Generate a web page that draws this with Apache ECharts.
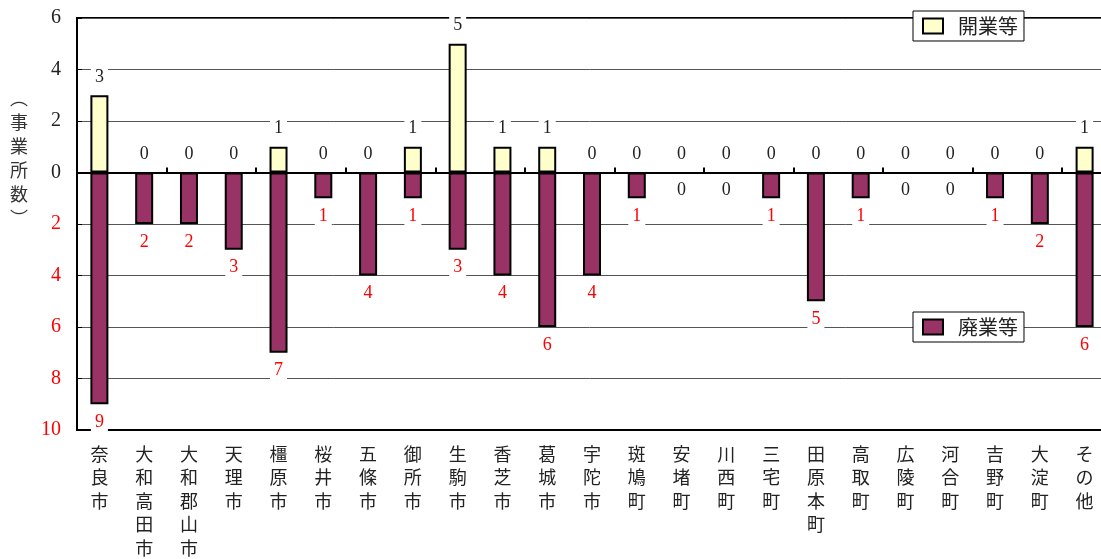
<!DOCTYPE html>
<html>
<head>
<meta charset="utf-8">
<script src="https://cdn.jsdelivr.net/npm/echarts@6/dist/echarts.min.js"></script>
<style>
  html, body { margin: 0; background: #fff; }
  #chart { width: 1101px; height: 559px; }
</style>
</head>
<body>
<div id="chart"></div>
<script>
// 市町村別 開業等・廃業等 事業所数
const categories = ['奈良市', '大和高田市', '大和郡山市', '天理市', '橿原市', '桜井市', '五條市', '御所市',
  '生駒市', '香芝市', '葛城市', '宇陀市', '斑鳩町', '安堵町', '川西町', '三宅町', '田原本町', '高取町',
  '広陵町', '河合町', '吉野町', '大淀町', 'その他']
const openCounts = [3, 0, 0, 0, 1, 0, 0, 1, 5, 1, 1, 0, 0, 0, 0, 0, 0, 0, 0, 0, 0, 0, 1]
const closeCounts = [9, 2, 2, 3, 7, 1, 4, 1, 3, 4, 6, 4, 1, 0, 0, 1, 5, 1, 0, 0, 1, 2, 6]

const serif = '"Liberation Serif", "DejaVu Serif", serif'
const jp = '"Noto Sans CJK JP", sans-serif'

const chart = echarts.init(document.getElementById('chart'))

const valueLabel = {
  show: true,
  fontFamily: serif,
  fontSize: 18,
  backgroundColor: '#fff',
  padding: [0, 4],
  distance: 9,
  formatter: p => Math.abs(p.value)
}

const legendBase = {
  orient: 'horizontal',
  backgroundColor: '#fff',
  borderColor: '#000',
  borderWidth: 1,
  borderRadius: 0,
  padding: [5, 6, 5, 9],
  itemWidth: 20,
  itemHeight: 15,
  icon: 'rect',
  textStyle: { fontFamily: jp, fontSize: 20, color: '#222', padding: [0, 0, 0, 10] }
}

const option = {
  animation: false,
  grid: {
    left: 77,
    top: 18,
    width: 1030,
    bottom: 129,
    outerBoundsMode: 'none',
    show: true,
    borderColor: '#000',
    borderWidth: 2
  },
  legend: [
    Object.assign({ data: ['開業等'], left: 913, top: 11 }, legendBase),
    Object.assign({ data: ['廃業等'], left: 913, top: 312 }, legendBase)
  ],
  graphic: [
    {
      type: 'text',
      left: 10,
      top: 86,
      style: {
        text: '︵\n事\n業\n所\n数\n︶',
        font: '18px ' + jp,
        lineHeight: 24,
        fill: '#333',
        align: 'center'
      }
    }
  ],
  xAxis: [
    {
      type: 'category',
      data: categories,
      position: 'bottom',
      axisLine: { onZero: false, lineStyle: { color: '#000', width: 2 } },
      axisTick: { show: false },
      axisLabel: {
        interval: 0,
        margin: 12,
        fontFamily: jp,
        fontSize: 18,
        lineHeight: 23.5,
        color: '#222',
        verticalAlign: 'top',
        formatter: v => v.split('').join('\n')
      },
      splitLine: { show: false }
    },
    {
      type: 'category',
      data: categories,
      position: 'bottom',
      axisLine: { onZero: true, lineStyle: { color: '#000', width: 2 } },
      axisTick: { show: true, inside: true, length: 5, lineStyle: { color: '#000', width: 2 } },
      axisLabel: { show: false },
      splitLine: { show: false }
    }
  ],
  yAxis: {
    type: 'value',
    min: -10,
    max: 6,
    interval: 2,
    axisLine: { show: true, lineStyle: { color: '#000', width: 2 } },
    axisTick: { show: true, inside: true, length: 5, lineStyle: { color: '#000' } },
    axisLabel: {
      margin: 16,
      fontFamily: serif,
      fontSize: 20,
      formatter: v => Math.abs(v),
      color: v => (v < 0 ? '#ff0000' : '#222')
    },
    splitLine: { show: true, lineStyle: { color: '#555', width: 1 } }
  },
  series: [
    {
      name: '開業等',
      type: 'bar',
      xAxisIndex: 0,
      barWidth: 18,
      barGap: '-100%',
      itemStyle: { color: '#ffffcc', borderColor: '#000', borderWidth: 2 },
      label: Object.assign({}, valueLabel, { position: 'top', color: '#222' }),
      data: openCounts.map(v => ({ value: v, itemStyle: v ? {} : { borderWidth: 0 } })),
      z: 3
    },
    {
      name: '廃業等',
      type: 'bar',
      xAxisIndex: 0,
      barWidth: 18,
      barGap: '-100%',
      itemStyle: { color: '#993366', borderColor: '#000', borderWidth: 2 },
      label: Object.assign({}, valueLabel, { position: 'bottom', color: '#ff0000' }),
      data: closeCounts.map(v => ({
        value: -v,
        itemStyle: v ? {} : { borderWidth: 0 },
        label: { color: v ? '#ff0000' : '#222' }
      })),
      z: 3
    }
  ]
}

chart.setOption(option)
</script>
</body>
</html>
